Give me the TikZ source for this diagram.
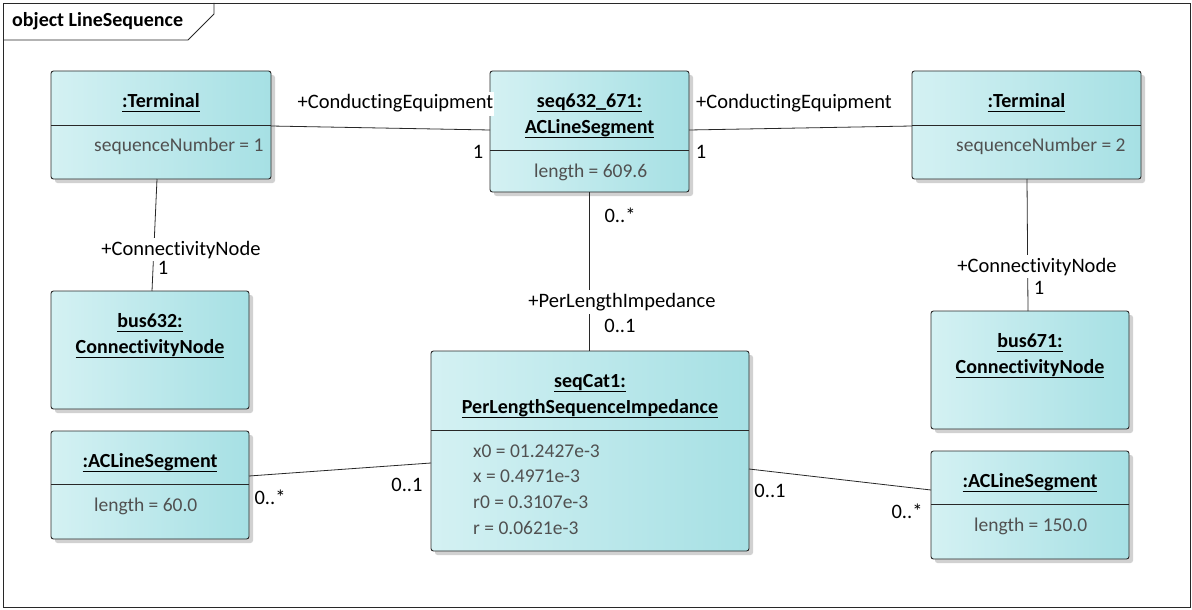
\documentclass[tikz,border=0pt]{standalone}
\usepackage{fontspec}
\setmainfont{Carlito}[Ligatures={NoCommon}]
\usetikzlibrary{shadows,calc}
\definecolor{boxL}{RGB}{212,241,243}
\definecolor{boxR}{RGB}{166,224,228}
\definecolor{attrgray}{RGB}{80,80,80}
\definecolor{linegray}{RGB}{40,40,40}
\newcommand\ulin[1]{\setbox0\hbox{#1}\rlap{\rule[-5pt]{\wd0}{1.2pt}}\box0}
\begin{document}
\begin{tikzpicture}[x=1pt,y=-1pt,
  font=\fontsize{19.5}{23}\selectfont,
  umlbox/.style={draw=linegray, line width=0.9pt, rounded corners=2.5pt,
    left color=boxL, right color=boxR,
    drop shadow={shadow xshift=4pt, shadow yshift=-4pt, fill=black!40, opacity=0.45},
    anchor=north west, inner sep=0pt, outer sep=0pt},
  ttl/.style={font=\fontsize{20}{23}\selectfont\bfseries, anchor=base, inner sep=0pt},
  att/.style={text=attrgray, anchor=base west, inner sep=0pt},
  lbl/.style={anchor=base, inner sep=0pt, font=\fontsize{20.5}{23}\selectfont},
  wlbl/.style={lbl, fill=white, inner xsep=1pt, inner ysep=3pt},
  conn/.style={draw=linegray, line width=0.8pt},
  divider/.style={draw=linegray, line width=0.9pt}]
\useasboundingbox (0,0) rectangle (1192,610);
\fill[white] (0,0) rectangle (1192,610);
% frame
\draw[linegray, line width=0.8pt] (3,3) rectangle (1190,607);
\draw[linegray, line width=0.8pt] (3,40) -- (188,40) -- (214,14) -- (214,3);
\node[anchor=base west, inner sep=0pt, font=\fontsize{20}{23}\selectfont\bfseries] (frm) at (12,27) {object LineSequence};

% boxes
\node[umlbox, minimum width=220pt, minimum height=108pt] (t1) at (51,71) {};
\node[umlbox, minimum width=199pt, minimum height=121pt] (s) at (490,71) {};
\node[umlbox, minimum width=229pt, minimum height=108pt] (t2) at (912,71) {};
\node[umlbox, minimum width=198pt, minimum height=118pt] (b1) at (51,291) {};
\node[umlbox, minimum width=198pt, minimum height=118pt] (b2) at (931,311) {};
\node[umlbox, minimum width=318pt, minimum height=200pt] (z) at (431,351) {};
\node[umlbox, minimum width=198pt, minimum height=108pt] (a1) at (51,431) {};
\node[umlbox, minimum width=198pt, minimum height=108pt] (a2) at (931,451) {};

% dividers
\draw[divider] (t1.west |- 0,125) -- (t1.east |- 0,125);
\draw[divider] (s.west |- 0,150) -- (s.east |- 0,150);
\draw[divider] (t2.west |- 0,125) -- (t2.east |- 0,125);
\draw[divider] (z.west |- 0,430) -- (z.east |- 0,430);
\draw[divider] (a1.west |- 0,484) -- (a1.east |- 0,484);
\draw[divider] (a2.west |- 0,504) -- (a2.east |- 0,504);

% titles
\node[ttl] (t1n) at (t1.north |- 0,107) {\ulin{:Terminal}};
\node[ttl] (sn1) at (s.north |- 0,107) {\ulin{seq632\_671:}};
\node[ttl] (sn2) at (s.north |- 0,133) {\ulin{ACLineSegment}};
\node[ttl] (t2n) at (t2.north |- 0,107) {\ulin{:Terminal}};
\node[ttl] (b1n1) at (b1.north |- 0,327) {\ulin{bus632:}};
\node[ttl] (b1n2) at (b1.north |- 0,353) {\ulin{ConnectivityNode}};
\node[ttl] (b2n1) at (b2.north |- 0,347) {\ulin{bus671:}};
\node[ttl] (b2n2) at (b2.north |- 0,373) {\ulin{ConnectivityNode}};
\node[ttl] (zn1) at (z.north |- 0,387) {\ulin{seqCat1:}};
\node[ttl] (zn2) at (z.north |- 0,413) {\ulin{PerLengthSequenceImpedance}};
\node[ttl] (a1n) at (a1.north |- 0,467) {\ulin{:ACLineSegment}};
\node[ttl] (a2n) at (a2.north |- 0,487) {\ulin{:ACLineSegment}};

% attributes
\node[att] (t1a) at (94,151) {sequenceNumber = 1};
\node[att] (sa) at (534,177) {length = 609.6};
\node[att] (t2a) at (956,151) {sequenceNumber = 2};
\node[att] (za1) at (473,457) {x0 = 01.2427e-3};
\node[att] (za2) at (473,482) {x = 0.4971e-3};
\node[att] (za3) at (473,508) {r0 = 0.3107e-3};
\node[att] (za4) at (473,534) {r = 0.0621e-3};
\node[att] (a1a) at (94,511) {length = 60.0};
\node[att] (a2a) at (974,531) {length = 150.0};

% connectors
\draw[conn] ($(t1.east)+(0,1)$) -- ($(s.west)+(0,-1.5)$);
\draw[conn] ($(s.east)+(0,-1.5)$) -- ($(t2.west)+(0,1)$);
\draw[conn] ($(t1.south)+(-4,0)$) -- ($(b1.north)+(2,0)$);
\draw[conn] ($(t2.south)+(0.5,0)$) -- ($(b2.north)+(-2,0)$);
\draw[conn] (s.south) -- (s.south |- z.north);
\draw[conn] ($(a1.east)+(0,-9)$) -- ($(z.west)+(0,12)$);
\draw[conn] ($(z.east)+(0,18)$) -- ($(a2.west)+(0,-15)$);

% connector labels
\node[wlbl] (l1) at (395.5,109) {+ConductingEquipment};
\node[lbl] (l2) at (478,158) {1};
\node[wlbl] (l3) at (794,109) {+ConductingEquipment};
\node[lbl] (l4) at (701,158) {1};
\node[wlbl] (l5) at (181,255) {+ConnectivityNode};
\node[lbl] (l6) at (163,274) {1};
\node[wlbl] (l7) at (1037,272) {+ConnectivityNode};
\node[lbl] (l8) at (1039,294) {1};
\node[lbl] (l9) at (620,222) {0..*};
\node[wlbl] (l10) at (622,307) {+PerLengthImpedance};
\node[lbl] (l11) at (620,332) {0..1};
\node[lbl] (l12) at (270,504) {0..*};
\node[lbl] (l13) at (407,491) {0..1};
\node[lbl] (l14) at (770,497) {0..1};
\node[lbl] (l15) at (907,518) {0..*};
\end{tikzpicture}
\end{document}
